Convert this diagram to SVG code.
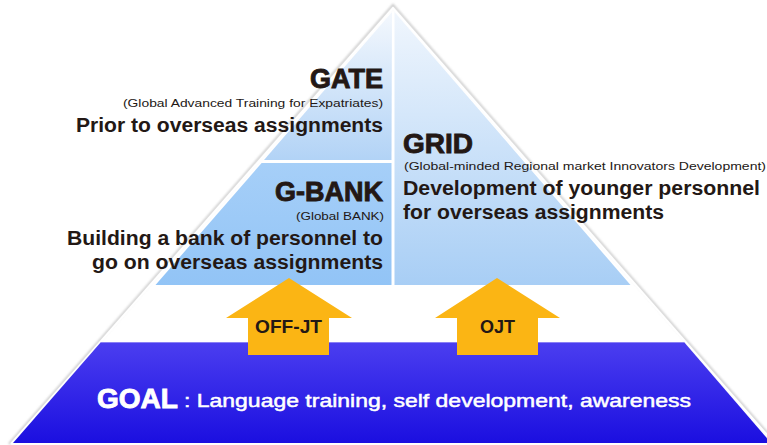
<svg xmlns="http://www.w3.org/2000/svg" width="767" height="445" viewBox="0 0 767 445">
<defs>
<style>
.t{font-family:"Liberation Sans",Arial,Helvetica,sans-serif;fill:#231815}
.h{font-weight:bold;font-size:27px;stroke:#231815;stroke-width:0.9px}
.s{font-size:11px}
.m{font-weight:bold;font-size:19.5px}
.a{font-weight:bold;font-size:18px}
.w{fill:#ffffff}
.arr{fill:#fbb514}
</style>
<linearGradient id="gGate" x1="0" y1="12" x2="0" y2="160" gradientUnits="userSpaceOnUse">
<stop offset="0" stop-color="#f4f8fd"/><stop offset="1" stop-color="#b2d3f6"/>
</linearGradient>
<linearGradient id="gBank" x1="0" y1="163" x2="0" y2="285" gradientUnits="userSpaceOnUse">
<stop offset="0" stop-color="#a6cff8"/><stop offset="1" stop-color="#92c4f6"/>
</linearGradient>
<linearGradient id="gGrid" x1="0" y1="12" x2="0" y2="285" gradientUnits="userSpaceOnUse">
<stop offset="0" stop-color="#f0f6fd"/><stop offset="1" stop-color="#a8cef5"/>
</linearGradient>
<linearGradient id="gGoal" x1="0" y1="342" x2="0" y2="443" gradientUnits="userSpaceOnUse">
<stop offset="0" stop-color="#4b3ef0"/><stop offset="1" stop-color="#1b0fe0"/>
</linearGradient>
<filter id="soft" x="-5%" y="-5%" width="110%" height="110%"><feGaussianBlur stdDeviation="1"/></filter>
</defs>
<rect width="767" height="445" fill="#ffffff"/>
<polyline points="9,444 393,5 777,444" fill="none" stroke="#c8c8c8" stroke-width="2" filter="url(#soft)"/>
<polyline points="11,444 393,8 775,444" fill="none" stroke="#ffffff" stroke-width="2"/>
<g id="gate">
<polygon points="392,12 391.5,160 264,160" fill="url(#gGate)"/>
<text class="t h" x="383" y="88" text-anchor="end">GATE</text>
<text class="t s" x="383" y="107" text-anchor="end" textLength="260" lengthAdjust="spacingAndGlyphs">(Global Advanced Training for Expatriates)</text>
<text class="t m" x="383" y="132" text-anchor="end" textLength="307" lengthAdjust="spacingAndGlyphs">Prior to overseas assignments</text>
</g>
<g id="gbank">
<polygon points="261.6,163 391.5,163 391.5,285 155.5,285" fill="url(#gBank)"/>
<text class="t h" x="383" y="201" text-anchor="end">G-BANK</text>
<text class="t s" x="384" y="220" text-anchor="end" textLength="88" lengthAdjust="spacingAndGlyphs">(Global BANK)</text>
<text class="t m" x="383" y="245" text-anchor="end" textLength="316" lengthAdjust="spacingAndGlyphs">Building a bank of personnel to</text>
<text class="t m" x="383" y="269" text-anchor="end" textLength="291" lengthAdjust="spacingAndGlyphs">go on overseas assignments</text>
</g>
<g id="grid">
<polygon points="394.5,12 394.5,285 630.5,285" fill="url(#gGrid)"/>
<text class="t h" x="403" y="153" style="font-size:28px">GRID</text>
<text class="t s" x="404" y="170" textLength="362" lengthAdjust="spacingAndGlyphs">(Global-minded Regional market Innovators Development)</text>
<text class="t m" x="403" y="195" textLength="357" lengthAdjust="spacingAndGlyphs">Development of younger personnel</text>
<text class="t m" x="403" y="219" textLength="261" lengthAdjust="spacingAndGlyphs">for overseas assignments</text>
</g>
<g id="goal">
<polygon points="101,342 684,342 771,443 13,443" fill="url(#gGoal)"/>
<line x1="101" y1="342.5" x2="684" y2="342.5" stroke="#8a80f5" stroke-width="1"/>
<text class="t w" x="97" y="408" font-weight="bold" font-size="28" stroke="#ffffff" stroke-width="0.9">GOAL</text>
<text class="t w" x="184" y="407" font-size="19" stroke="#ffffff" stroke-width="0.5" textLength="507" lengthAdjust="spacingAndGlyphs">: Language training, self development, awareness</text>
</g>
<g id="connectors">
<g id="arrow-offjt">
<polygon class="arr" points="289,278 352,318 329,318 329,355 248,355 248,318 226,318"/>
<text class="t a" x="288.5" y="333" text-anchor="middle" textLength="67" lengthAdjust="spacingAndGlyphs">OFF-JT</text>
</g>
<g id="arrow-ojt">
<polygon class="arr" points="497,278 560,318 538,318 538,355 457,355 457,318 435,318"/>
<text class="t a" x="497.5" y="333" text-anchor="middle">OJT</text>
</g>
</g>
</svg>
